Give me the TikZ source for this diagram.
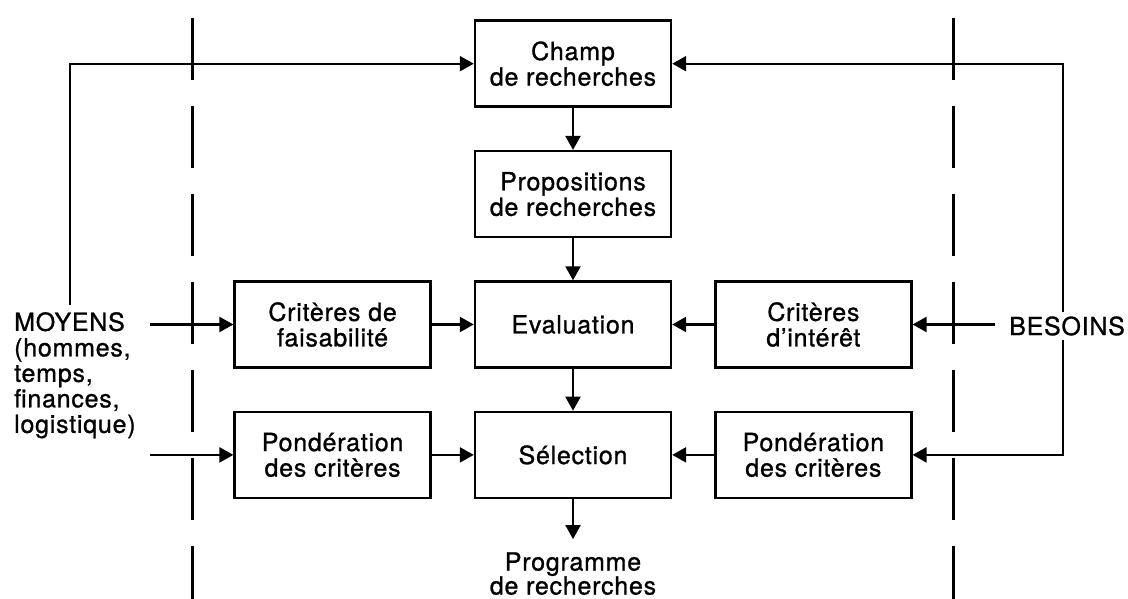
\documentclass[tikz,border=0pt]{standalone}
\usepackage{fontspec}
\setmainfont{TeX Gyre Heros}[LetterSpace=3, FakeBold=1]
\usepackage{tikz}
\usetikzlibrary{arrows.meta, positioning}

\tikzset{tri/.tip={Triangle[length=14pt, width=15pt]}}

\begin{document}
\begin{tikzpicture}[
  x=1pt, y=1pt,
  font=\fontsize{25}{25.5}\selectfont,
  node distance=42pt and 42pt,
  box/.style={draw, line width=2.4pt, minimum width=196pt, minimum height=86pt, align=center, inner sep=2pt},
  arrow/.style={line width=2.2pt, -tri},
  limit/.style={line width=3pt, dash pattern=on 62pt off 26pt}
]
\useasboundingbox (0,0) rectangle (1128,599);

% Nodes
\node[box] (eval) at (573,274.5) {Evaluation};
\node[box, above=of eval] (prop) {Propositions\\de recherches};
\node[box, above=of prop] (champ) {Champ\\de recherches};
\node[box, below=of eval] (sel) {Sélection};
\node[box, left=of eval] (faisab) {Critères de\\faisabilité};
\node[box, right=of eval] (interet) {Critères\\d’intérêt};
\node[box, left=of sel] (pondG) {Pondération\\des critères};
\node[box, right=of sel] (pondD) {Pondération\\des critères};
\node[below=53pt of sel, align=center, inner sep=0pt, font=\fontsize{25}{24}\selectfont] (prog) {Programme\\de recherches};
\node[anchor=north west, align=left, inner sep=0pt] (moyens) at (14,287) {MOYENS\\(hommes,\\temps,\\finances,\\logistique)};

% Free ends
\coordinate (mUp) at (70,294);
\coordinate (mIn) at (150,0);
\coordinate (bIn) at (995,0);
\coordinate (bLine) at (1063,0);

% Limits
\draw[limit] (192,581) -- (192,0);
\draw[limit] (953,581) -- (953,0);

% Pointers
\draw[arrow] (champ) -- (prop);
\draw[arrow] (prop) -- (eval);
\draw[arrow] (eval) -- (sel);
\draw[arrow] (faisab) -- (eval);
\draw[arrow] (interet) -- (eval);
\draw[arrow] (pondG) -- (sel);
\draw[arrow] (pondD) -- (sel);
\draw[arrow, shorten >=13pt] (sel) -- (prog);
\draw[arrow] (mUp) |- (champ);
\draw[arrow] (mIn |- faisab) -- (faisab);
\draw[arrow] (mIn |- pondG) -- (pondG);
\draw[arrow] (bIn |- interet) -- (interet);
\draw[arrow, tri-tri] (champ) -| (bLine |- pondD) -- (pondD);

% Label over the line
\node[anchor=west, fill=white, inner sep=4pt] (besoins) at (1005,273) {BESOINS};

\end{tikzpicture}
\end{document}
